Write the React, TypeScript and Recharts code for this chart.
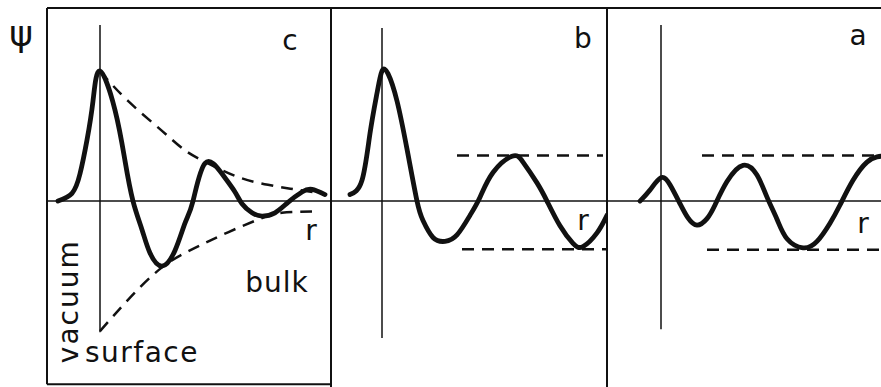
import { LineChart, Line, XAxis, YAxis, ReferenceLine, ReferenceDot } from "recharts";

// psi(r) across the surface plane (r = 0), three cases side by side

// c: surface state, decaying into the bulk
const cR = [-2.1, -1.4, -1.0, -0.65, -0.35, 0, 0.75, 1.25, 1.65, 2.1, 2.5, 3.1, 3.75, 4.25, 4.65, 5.25, 6.1, 6.75, 7.1, 7.6, 8.1, 8.75, 9.4, 10.1, 10.6, 11.25];
const cPsi = [0, 0.06, 0.21, 0.47, 0.77, 1.0, 0.7, 0.31, 0, -0.22, -0.4, -0.5, -0.38, -0.17, 0, 0.29, 0.21, 0.07, -0.02, -0.09, -0.115, -0.09, -0.01, 0.07, 0.09, 0.05];
const cUpperR = [0, 1.4, 3.1, 4.25, 5.4, 6.9, 8.4, 9.75, 11.1];
const cUpperPsi = [1.0, 0.77, 0.54, 0.39, 0.29, 0.185, 0.125, 0.09, 0.06];
const cLowerR = [0, 1.4, 3.1, 4.75, 6.4, 8.1, 9.1, 10.6];
const cLowerPsi = [-1.0, -0.76, -0.51, -0.36, -0.24, -0.13, -0.09, -0.08];

// b: surface resonance
const bR = [-1.6, -1.0, -0.6, -0.25, 0, 0.3, 0.75, 1.25, 1.75, 2.05, 2.55, 3.15, 3.75, 4.4, 4.9, 5.55, 6.5, 7.05, 7.75, 8.25, 8.9, 9.55, 10.05, 10.75, 11.25];
const bPsi = [0.05, 0.16, 0.52, 0.83, 1.0, 0.98, 0.77, 0.4, 0, -0.15, -0.28, -0.31, -0.26, -0.11, 0.03, 0.22, 0.345, 0.3, 0.14, 0, -0.19, -0.325, -0.35, -0.245, -0.11];
const bUpperR = [3.75, 11.05];
const bUpperPsi = [0.35, 0.35];
const bLowerR = [4.0, 11.25];
const bLowerPsi = [-0.37, -0.37];

// a: bulk state
const aR = [-1.05, -0.55, 0, 0.45, 0.95, 1.35, 1.8, 2.3, 2.7, 3.3, 4.1, 4.8, 5.3, 5.8, 6.3, 7.1, 7.8, 8.45, 8.95, 9.6, 10.3, 10.8, 11.0];
const aPsi = [0, 0.085, 0.18, 0.125, -0.02, -0.13, -0.185, -0.135, -0.03, 0.15, 0.275, 0.2, 0.03, -0.14, -0.29, -0.36, -0.31, -0.17, -0.03, 0.16, 0.3, 0.34, 0.345];
const aUpperR = [2.05, 11.0];
const aUpperPsi = [0.35, 0.35];
const aLowerR = [2.3, 11.0];
const aLowerPsi = [-0.375, -0.375];

const INK = "#111";
const FONT = "DejaVu Sans";
const HEIGHT = 387;
const Y_DOMAIN: [number, number] = [-1.43, 1.485];
const FLOOR = -1.408;

type Pt = { r: number; psi: number };
type Txt = { text: string; r: number; psi: number; size?: number; angle?: number; spacing?: number };

const toPoints = (r: number[], psi: number[]): Pt[] => r.map((x, i) => ({ r: x, psi: psi[i] }));

type PanelProps = {
  left: number;
  width: number;
  margin: { top: number; right: number; bottom: number; left: number };
  xDomain: [number, number];
  solid: Pt[];
  dashed: Pt[][];
  surface: [number, number];
  texts: Txt[];
  frameLeft?: boolean;
  frameRight?: boolean;
};

function Panel({ left, width, margin, xDomain, solid, dashed, surface, texts, frameLeft, frameRight }: PanelProps) {
  const [x0, x1] = xDomain;
  const top = Y_DOMAIN[1];
  return (
    <div style={{ position: "absolute", left, top: 0 }}>
      <LineChart width={width} height={HEIGHT} margin={margin}>
        <XAxis type="number" dataKey="r" domain={xDomain} allowDataOverflow hide />
        <YAxis type="number" domain={Y_DOMAIN} allowDataOverflow hide />

        <ReferenceLine y={top} stroke={INK} strokeWidth={2} />
        {frameLeft && (
          <ReferenceLine segment={[{ x: x0, y: top }, { x: x0, y: FLOOR }]} stroke={INK} strokeWidth={2} />
        )}
        {frameLeft && (
          <ReferenceLine segment={[{ x: x0, y: FLOOR }, { x: x1, y: FLOOR }]} stroke={INK} strokeWidth={2} />
        )}
        {frameRight && <ReferenceLine x={x1} stroke={INK} strokeWidth={2} />}

        <ReferenceLine y={0} stroke={INK} strokeWidth={1.5} />
        <ReferenceLine
          segment={[{ x: 0, y: surface[0] }, { x: 0, y: surface[1] }]}
          stroke={INK}
          strokeWidth={1.5}
        />

        {dashed.map((d, i) => (
          <Line
            key={`d${i}`}
            data={d}
            dataKey="psi"
            type="natural"
            stroke={INK}
            strokeWidth={2.5}
            strokeDasharray="12 8"
            dot={false}
            activeDot={false}
            isAnimationActive={false}
          />
        ))}
        <Line
          data={solid}
          dataKey="psi"
          type="natural"
          stroke={INK}
          strokeWidth={4.8}
          strokeLinecap="round"
          strokeLinejoin="round"
          dot={false}
          activeDot={false}
          isAnimationActive={false}
        />

        {texts.map((t) => (
          <ReferenceDot
            key={t.text + t.r}
            x={t.r}
            y={t.psi}
            r={0}
            fill="none"
            stroke="none"
            ifOverflow="visible"
            label={{
              value: t.text,
              position: "center",
              angle: t.angle ?? 0,
              fontFamily: FONT,
              fontSize: t.size ?? 28,
              letterSpacing: t.spacing ?? 0,
              fill: INK,
            }}
          />
        ))}
      </LineChart>
    </div>
  );
}

export default function App() {
  return (
    <div style={{ position: "absolute", left: 0, top: 0, width: 881, height: HEIGHT, background: "#fff", overflow: "hidden" }}>
      <Panel
        left={0}
        width={333}
        margin={{ top: 8, right: 2, bottom: 0, left: 47 }}
        xDomain={[-2.65, 11.55]}
        solid={toPoints(cR, cPsi)}
        dashed={[toPoints(cUpperR, cUpperPsi), toPoints(cLowerR, cLowerPsi)]}
        surface={[1.354, -1.008]}
        frameLeft
        frameRight
        texts={[
          { text: "ψ", r: -3.95, psi: 1.29, size: 36 },
          { text: "c", r: 9.5, psi: 1.24 },
          { text: "r", r: 10.55, psi: -0.223 },
          { text: "bulk", r: 8.85, psi: -0.623, spacing: 1 },
          { text: "surface", r: 2.1, psi: -1.16, spacing: 1.5 },
          { text: "vacuum", r: -1.6, psi: -0.77, angle: -90, spacing: 2 },
        ]}
      />
      <Panel
        left={331}
        width={278}
        margin={{ top: 8, right: 2, bottom: 0, left: 0 }}
        xDomain={[-2.55, 11.25]}
        solid={toPoints(bR, bPsi)}
        dashed={[toPoints(bUpperR, bUpperPsi), toPoints(bLowerR, bLowerPsi)]}
        surface={[1.331, -1.054]}
        frameRight
        texts={[
          { text: "b", r: 10.05, psi: 1.254 },
          { text: "r", r: 10.05, psi: -0.146 },
        ]}
      />
      <Panel
        left={607}
        width={274}
        margin={{ top: 8, right: 0, bottom: 0, left: 0 }}
        xDomain={[-2.7, 11.0]}
        solid={toPoints(aR, aPsi)}
        dashed={[toPoints(aUpperR, aUpperPsi), toPoints(aLowerR, aLowerPsi)]}
        surface={[1.354, -0.985]}
        texts={[
          { text: "a", r: 9.85, psi: 1.277 },
          { text: "r", r: 10.1, psi: -0.169 },
        ]}
      />
    </div>
  );
}
